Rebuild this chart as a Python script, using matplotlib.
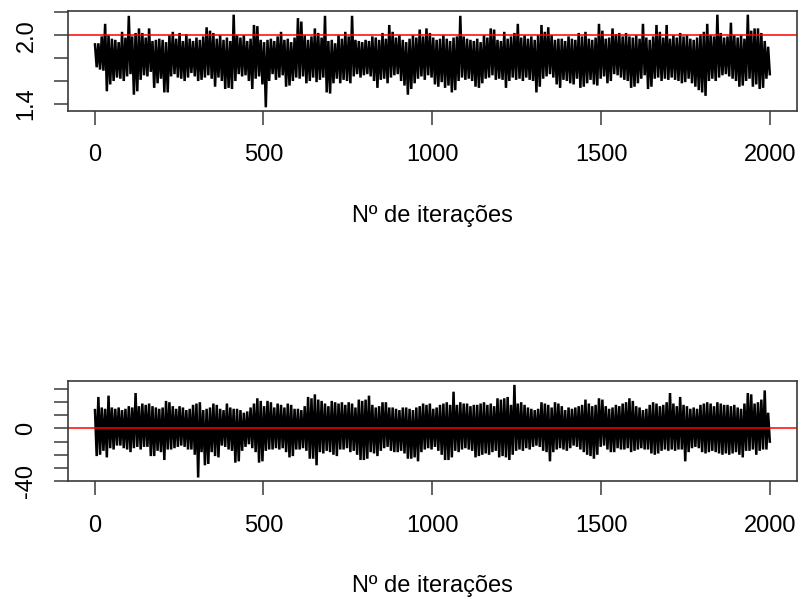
import numpy as np
import matplotlib
matplotlib.use("Agg")
import matplotlib.pyplot as plt

plt.rcParams['font.family'] = ['Liberation Sans', 'DejaVu Sans']

# Trace of two MCMC chains (2000 iterations), read as the upper / lower
# envelope of each block of 10 iterations.
n_iter = 2000
xlabel = "Nº de iterações"

top_hi = [1.92, 1.93, 1.99, 2.10, 2.00, 1.97, 1.96, 1.94, 2.03, 1.98, 2.17, 1.99, 2.02, 2.06, 2.02, 1.98, 2.06, 1.95, 1.96, 1.97,
          1.96, 1.94, 2.00, 2.03, 1.97, 2.02, 1.95, 2.01, 1.97, 1.95, 1.98, 1.96, 1.99, 2.07, 2.04, 2.02, 1.97, 2.00, 1.96, 1.98,
          1.95, 2.18, 2.00, 1.98, 2.00, 1.95, 1.97, 2.09, 2.08, 1.96, 1.94, 1.96, 1.97, 1.95, 1.99, 2.03, 1.96, 1.97, 1.94, 1.98,
          2.15, 2.12, 2.00, 1.96, 1.99, 2.06, 2.02, 1.98, 2.17, 1.95, 1.96, 1.93, 2.00, 1.97, 2.03, 1.99, 2.17, 1.96, 1.95, 1.94,
          1.96, 1.95, 1.99, 1.98, 1.96, 2.02, 1.97, 2.09, 2.03, 1.98, 2.00, 1.96, 1.94, 1.97, 2.00, 1.98, 2.05, 1.99, 2.06, 2.02,
          1.98, 1.96, 1.97, 2.00, 1.97, 1.95, 1.98, 1.99, 2.17, 1.99, 1.97, 1.96, 1.95, 1.97, 1.94, 2.00, 1.98, 2.06, 2.05, 1.96,
          1.95, 2.03, 1.97, 1.99, 2.02, 2.10, 1.98, 2.00, 1.97, 1.99, 1.96, 2.00, 2.09, 2.03, 2.07, 2.00, 1.96, 1.97, 1.97, 1.95,
          1.99, 1.97, 1.96, 2.02, 1.99, 2.03, 1.97, 1.96, 1.98, 2.10, 2.04, 1.97, 1.98, 2.06, 2.01, 2.02, 1.99, 2.02, 1.99, 1.98,
          2.00, 1.97, 2.10, 1.98, 1.96, 1.99, 2.09, 2.03, 1.98, 2.09, 1.97, 2.00, 1.98, 2.02, 1.99, 2.00, 1.97, 1.96, 1.98, 2.01,
          2.03, 2.10, 2.00, 1.99, 2.18, 2.02, 1.98, 1.99, 2.11, 2.00, 1.98, 2.00, 1.97, 2.18, 2.04, 2.06, 2.06, 2.02, 1.95, 1.90]

top_lo = [1.72, 1.70, 1.69, 1.51, 1.57, 1.60, 1.63, 1.62, 1.60, 1.64, 1.66, 1.48, 1.51, 1.61, 1.65, 1.64, 1.68, 1.54, 1.58, 1.62,
          1.50, 1.50, 1.64, 1.66, 1.63, 1.62, 1.60, 1.63, 1.67, 1.64, 1.60, 1.61, 1.63, 1.65, 1.62, 1.55, 1.63, 1.60, 1.53, 1.54,
          1.53, 1.60, 1.66, 1.64, 1.65, 1.60, 1.53, 1.62, 1.64, 1.57, 1.37, 1.60, 1.66, 1.61, 1.63, 1.65, 1.55, 1.56, 1.60, 1.63,
          1.62, 1.64, 1.58, 1.60, 1.63, 1.59, 1.61, 1.63, 1.50, 1.49, 1.58, 1.62, 1.58, 1.61, 1.60, 1.58, 1.64, 1.66, 1.63, 1.65,
          1.66, 1.64, 1.60, 1.54, 1.61, 1.62, 1.58, 1.63, 1.65, 1.66, 1.60, 1.56, 1.48, 1.53, 1.58, 1.62, 1.64, 1.61, 1.65, 1.63,
          1.57, 1.55, 1.59, 1.54, 1.56, 1.50, 1.52, 1.60, 1.63, 1.61, 1.62, 1.60, 1.55, 1.54, 1.58, 1.62, 1.63, 1.65, 1.61, 1.62,
          1.61, 1.54, 1.60, 1.63, 1.61, 1.62, 1.60, 1.63, 1.61, 1.60, 1.50, 1.55, 1.62, 1.64, 1.66, 1.63, 1.57, 1.54, 1.61, 1.60,
          1.58, 1.57, 1.62, 1.54, 1.55, 1.58, 1.61, 1.57, 1.56, 1.62, 1.64, 1.58, 1.60, 1.66, 1.65, 1.63, 1.61, 1.60, 1.54, 1.55,
          1.58, 1.62, 1.65, 1.53, 1.55, 1.62, 1.63, 1.60, 1.62, 1.61, 1.63, 1.61, 1.60, 1.58, 1.59, 1.62, 1.58, 1.55, 1.52, 1.50,
          1.47, 1.60, 1.62, 1.60, 1.63, 1.65, 1.66, 1.64, 1.62, 1.60, 1.55, 1.56, 1.60, 1.62, 1.55, 1.57, 1.53, 1.54, 1.62, 1.66]

bot_hi = [14, 24, 16, 15, 25, 16, 15, 16, 14, 15, 17, 16, 27, 17, 19, 18, 19, 17, 16, 15,
          16, 21, 20, 17, 15, 17, 16, 14, 15, 18, 19, 20, 14, 15, 16, 19, 18, 15, 14, 19,
          16, 15, 15, 14, 12, 13, 16, 19, 23, 21, 17, 21, 20, 16, 19, 18, 16, 19, 18, 15,
          15, 14, 17, 24, 23, 26, 22, 21, 19, 17, 21, 20, 19, 20, 18, 20, 19, 16, 22, 21,
          22, 25, 18, 16, 17, 20, 20, 16, 16, 15, 14, 16, 16, 15, 14, 16, 17, 19, 18, 19,
          15, 16, 18, 19, 20, 18, 28, 18, 20, 19, 19, 17, 18, 18, 19, 20, 18, 19, 17, 23,
          22, 23, 24, 18, 33.2, 19, 20, 18, 16, 15, 14, 15, 20, 19, 18, 16, 20, 19, 17, 14,
          16, 15, 16, 17, 18, 22, 19, 17, 18, 23, 22, 17, 15, 16, 18, 17, 19, 20, 23, 21,
          17, 16, 14, 15, 18, 20, 19, 17, 18, 20, 27, 19, 17, 24, 18, 17, 15, 16, 15, 18,
          19, 20, 19, 17, 20, 19, 18, 18, 17, 18, 16, 15, 19, 27, 26, 19, 20, 22, 29, 12]

bot_lo = [-21, -20, -17, -22, -15, -16, -13, -13, -15, -16, -18, -15, -14, -16, -14, -14, -21, -21, -17, -18,
          -24, -16, -16, -15, -14, -13, -14, -16, -16, -20, -37.3, -18, -28, -27, -18, -21, -22, -13, -14, -16,
          -17, -26, -25, -17, -14, -12, -15, -18, -26, -25, -17, -16, -16, -15, -16, -15, -18, -22, -21, -16,
          -16, -15, -17, -23, -23, -28, -18, -19, -17, -18, -20, -21, -16, -16, -15, -18, -17, -20, -24, -24,
          -23, -18, -19, -21, -17, -15, -14, -17, -18, -18, -17, -19, -23, -23, -22, -25, -18, -16, -15, -16,
          -14, -17, -20, -24, -24, -22, -17, -18, -16, -15, -16, -17, -22, -21, -20, -19, -20, -18, -17, -22,
          -21, -22, -24, -20, -17, -16, -17, -15, -16, -14, -13, -14, -17, -18, -25, -18, -16, -15, -16, -17,
          -15, -13, -14, -16, -18, -20, -21, -23, -20, -14, -13, -16, -18, -18, -15, -16, -16, -15, -18, -17,
          -16, -15, -16, -16, -19, -20, -19, -17, -16, -17, -16, -17, -16, -16, -25, -18, -15, -14, -15, -18,
          -19, -18, -17, -18, -19, -20, -19, -20, -19, -18, -20, -22, -17, -17, -16, -20, -17, -16, -16, -10]

top_ref = 2.0
bot_ref = 0.0
top_ticks = [1.4, 1.6, 1.8, 2.0, 2.2]
top_labels = ["1.4", "", "", "2.0", ""]
bot_ticks = [-40, -30, -20, -10, 0, 10, 20, 30]
bot_labels = ["-40", "", "", "", "0", "", "", ""]
x_ticks = [0, 500, 1000, 1500, 2000]


def interleave(hi, lo):
    y = np.empty(2 * len(hi))
    y[0::2] = hi
    y[1::2] = lo
    return y


FS = 17
box_col = '#3a3a3a'

fig = plt.figure(figsize=(8, 6), dpi=100)
ax1 = fig.add_axes([0.085, 0.815, 0.911, 0.1667])
ax2 = fig.add_axes([0.085, 0.198, 0.911, 0.1667])

for ax, hi, lo, ref, yt, yl in [(ax1, top_hi, top_lo, top_ref, top_ticks, top_labels),
                                (ax2, bot_hi, bot_lo, bot_ref, bot_ticks, bot_labels)]:
    y = interleave(hi, lo)
    x = np.linspace(1, n_iter, len(y))
    ax.plot(x, y, color='black', lw=1.8, solid_joinstyle='miter')
    ax.margins(x=0.04, y=0.04)
    ax.axhline(ref, color='red', lw=1.1)
    ax.set_xticks(x_ticks)
    ax.set_xticklabels([str(t) for t in x_ticks], fontsize=FS)
    ax.set_yticks(yt)
    ax.set_yticklabels(yl, fontsize=FS, rotation=90, va='center')
    ax.tick_params(direction='out', length=10, width=1.1, color=box_col, pad=12)
    ax.tick_params(axis='x', pad=14)
    for s in ax.spines.values():
        s.set_color(box_col)
        s.set_linewidth(1.2)
    ax.set_xlabel(xlabel, fontsize=FS, labelpad=28)

fig.savefig('out.png', dpi=100)
